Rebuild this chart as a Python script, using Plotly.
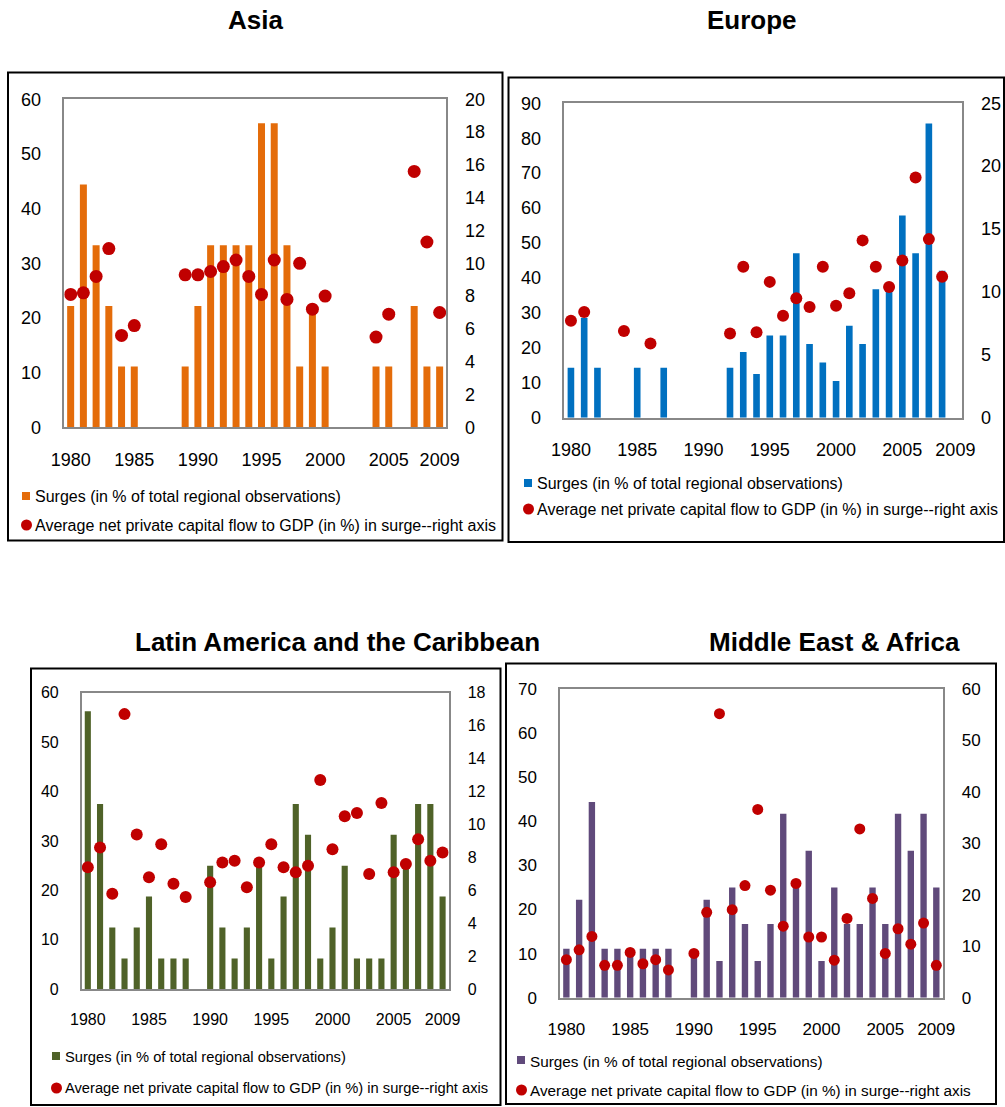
import plotly.graph_objects as go

W, H = 1005, 1107

years = list(range(1980, 2010))
tick_years = [1980, 1985, 1990, 1995, 2000, 2005, 2009]
tick_text = ["1980", "1985", "1990", "1995", "2000", "2005", "2009"]

N = None
asia_surges = [22.2, 44.4, 33.3, 22.2, 11.1, 11.1, N, N, N, 11.1,
               22.2, 33.3, 33.3, 33.3, 33.3, 55.6, 55.6, 33.3, 11.1, 22.2,
               11.1, N, N, N, 11.1, 11.1, N, 22.2, 11.1, 11.1]
asia_flow = [8.1, 8.2, 9.2, 10.9, 5.6, 6.2, N, N, N, 9.3,
             9.3, 9.5, 9.8, 10.2, 9.2, 8.1, 10.2, 7.8, 10.0, 7.2,
             8.0, N, N, N, 5.5, 6.9, N, 15.6, 11.3, 7.0]

europe_surges = [14.3, 28.6, 14.3, N, N, 14.3, N, 14.3, N, N,
                 N, N, 14.3, 18.8, 12.5, 23.5, 23.5, 47.1, 21.1, 15.8,
                 10.5, 26.3, 21.1, 36.8, 36.8, 57.9, 47.1, 84.2, 42.1, N]
europe_flow = [7.7, 8.4, N, N, 6.9, N, 5.9, N, N, N,
               N, N, 6.7, 12.0, 6.8, 10.8, 8.1, 9.5, 8.8, 12.0,
               8.9, 9.9, 14.1, 12.0, 10.4, 12.5, 19.1, 14.2, 11.2, N]

latam_surges = [56.25, 37.5, 12.5, 6.25, 12.5, 18.75, 6.25, 6.25, 6.25, N,
                25.0, 12.5, 6.25, 12.5, 25.0, 6.25, 18.75, 37.5, 31.25, 6.25,
                12.5, 25.0, 6.25, 6.25, 6.25, 31.25, 25.0, 37.5, 37.5, 18.75]
latam_flow = [7.4, 8.6, 5.8, 16.7, 9.4, 6.8, 8.8, 6.4, 5.6, N,
              6.5, 7.7, 7.8, 6.2, 7.7, 8.8, 7.4, 7.1, 7.5, 12.7,
              8.5, 10.5, 10.7, 7.0, 11.3, 7.1, 7.6, 9.1, 7.8, 8.3]

mea_surges = [11.1, 22.2, 44.4, 11.1, 11.1, 11.1, 11.1, 11.1, 11.1, N,
              9.1, 22.2, 8.3, 25.0, 16.7, 8.3, 16.7, 41.7, 25.0, 33.3,
              8.3, 25.0, 16.7, 16.7, 25.0, 16.7, 41.7, 33.3, 41.7, 25.0]
mea_flow = [7.4, 9.3, 11.9, 6.3, 6.3, 8.8, 6.6, 7.4, 5.4, N,
            8.6, 16.6, 55.2, 17.1, 21.8, 36.6, 20.9, 13.9, 22.2, 11.8,
            11.8, 7.3, 15.4, 32.8, 19.3, 8.6, 13.4, 10.4, 14.5, 6.3]

titles = ["Asia", "Europe", "Latin America and the Caribbean", "Middle East & Africa"]
legend_bar = "Surges (in % of total regional observations)"
legend_dot = "Average net private capital flow to GDP (in %) in surge--right axis"

FONT = "Arial, Liberation Sans, sans-serif"
RED = "#C00000"


def px(x):
    return x / W


def py(y):
    return 1 - y / H


panels = [
    dict(title=titles[0], bars=asia_surges, dots=asia_flow, color="#E46C0A",
         plot=(64.3, 99.3, 446, 427.3), left=(0, 60, 10), right=(0, 20, 2),
         box=(8, 72.5, 502.5, 540.5), title_xy=(255, 20), bw=0.55, ms=13, fs=18,
         leg=(22, 497, 525), lfs=16),
    dict(title=titles[1], bars=europe_surges, dots=europe_flow, color="#0070C0",
         plot=(564.3, 103.3, 962, 417.7), left=(0, 90, 10), right=(0, 25, 5),
         box=(508.5, 77.5, 1004, 542), title_xy=(752, 20), bw=0.5, ms=12, fs=18,
         leg=(524, 484, 509), lfs=16),
    dict(title=titles[2], bars=latam_surges, dots=latam_flow, color="#4F6228",
         plot=(81.7, 692.7, 448.7, 989.3), left=(0, 60, 10), right=(0, 18, 2),
         box=(31, 668.5, 500.5, 1105), title_xy=(337, 642), bw=0.5, ms=12, fs=16,
         leg=(52, 1057, 1088), lfs=14.7),
    dict(title=titles[3], bars=mea_surges, dots=mea_flow, color="#604A7B",
         plot=(560, 689, 942.7, 997.7), left=(0, 70, 10), right=(0, 60, 10),
         box=(506, 663.5, 996, 1104), title_xy=(834, 642), bw=0.5, ms=11, fs=17,
         leg=(517, 1061, 1090), lfs=15.3),
]

fig = go.Figure()
layout = dict(
    template="none",
    width=W, height=H, margin=dict(l=0, r=0, t=0, b=0, pad=0, autoexpand=False),
    paper_bgcolor="white", plot_bgcolor="white", showlegend=False,
    font=dict(family=FONT, color="black"),
    shapes=[], annotations=[],
)

for i, p in enumerate(panels):
    n = i + 1
    xa = "x" if n == 1 else f"x{n}"
    ya_l = f"y{2 * n - 1}" if n > 1 else "y"
    ya_r = f"y{2 * n}"
    x0, y0, x1, y1 = p["plot"]
    fig.add_trace(go.Bar(x=years, y=p["bars"], marker=dict(color=p["color"], line=dict(width=0)),
                         width=p["bw"], xaxis=xa, yaxis=ya_l, name=legend_bar))
    fig.add_trace(go.Scatter(x=years, y=p["dots"], mode="markers",
                             marker=dict(color=RED, size=p["ms"], line=dict(width=0)),
                             xaxis=xa, yaxis=ya_r, name=legend_dot))
    xkey = "xaxis" if n == 1 else f"xaxis{n}"
    ylkey = "yaxis" if n == 1 else f"yaxis{2 * n - 1}"
    yrkey = f"yaxis{2 * n}"
    layout[xkey] = dict(domain=[px(x0), px(x1)], range=[1979.5, 2009.5], anchor=ya_l,
                        tickvals=tick_years, ticktext=tick_text, showgrid=False, zeroline=False,
                        showline=True, mirror=True, linecolor="#888888", linewidth=1.5,
                        ticks="", automargin=False, ticklabelstandoff=15,
                        tickfont=dict(size=p["fs"], family=FONT))
    lo, hi, dt = p["left"]
    layout[ylkey] = dict(domain=[py(y1), py(y0)], range=[lo, hi], dtick=dt, tick0=0, anchor=xa,
                         showgrid=False, zeroline=False, showline=True, mirror=True,
                         linecolor="#888888", linewidth=1.5, ticks="", automargin=False,
                         ticklabelstandoff=18, tickfont=dict(size=p["fs"], family=FONT))
    lo, hi, dt = p["right"]
    layout[yrkey] = dict(range=[lo, hi], dtick=dt, tick0=0, anchor=xa, overlaying=ya_l, side="right",
                         showgrid=False, zeroline=False, showline=False, ticks="", automargin=False,
                         ticklabelstandoff=18, tickfont=dict(size=p["fs"], family=FONT))
    # outer box
    bx0, by0, bx1, by1 = p["box"]
    layout["shapes"].append(dict(type="rect", xref="paper", yref="paper",
                                 x0=px(bx0), x1=px(bx1), y0=py(by1), y1=py(by0),
                                 line=dict(color="black", width=2)))
    # title
    tx, ty = p["title_xy"]
    layout["annotations"].append(dict(text=f"<b>{p['title']}</b>", x=px(tx), y=py(ty),
                                      xref="paper", yref="paper", xanchor="center", yanchor="middle",
                                      showarrow=False, font=dict(size=26, family=FONT)))
    # legend
    lx, ly1, ly2 = p["leg"]
    layout["shapes"].append(dict(type="rect", xref="paper", yref="paper",
                                 x0=px(lx), x1=px(lx + 8), y0=py(ly1 + 3), y1=py(ly1 - 5),
                                 fillcolor=p["color"], line=dict(width=0)))
    layout["shapes"].append(dict(type="circle", xref="paper", yref="paper",
                                 x0=px(lx - 1), x1=px(lx + 10), y0=py(ly2 + 5.5), y1=py(ly2 - 5.5),
                                 fillcolor=RED, line=dict(width=0)))
    layout["annotations"].append(dict(text=legend_bar, x=px(lx + 11), y=py(ly1), xref="paper",
                                      yref="paper", xanchor="left", yanchor="middle",
                                      showarrow=False, font=dict(size=p["lfs"], family=FONT)))
    layout["annotations"].append(dict(text=legend_dot, x=px(lx + 11), y=py(ly2), xref="paper",
                                      yref="paper", xanchor="left", yanchor="middle",
                                      showarrow=False, font=dict(size=p["lfs"], family=FONT)))

fig.update_layout(**layout)
fig.write_html("out.html", config={"displayModeBar": False},
               post_script="document.body.style.margin='0';document.body.style.padding='0';")
